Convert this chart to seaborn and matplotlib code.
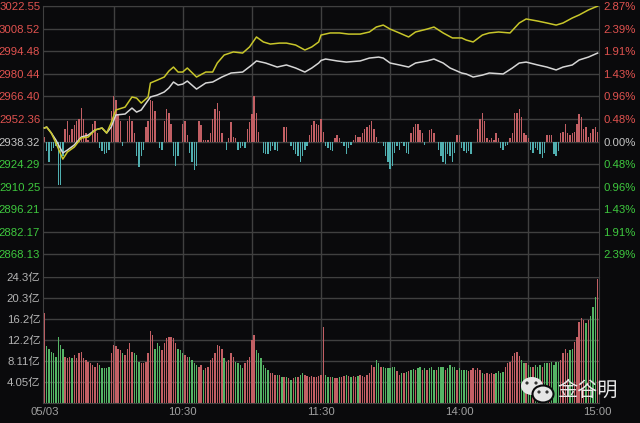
import numpy as np
import pandas as pd
import seaborn as sns
import matplotlib
matplotlib.use("Agg")
import matplotlib.pyplot as plt
from matplotlib.patches import Ellipse, Circle
from matplotlib.transforms import IdentityTransform

# ---- data ---------------------------------------------------------------
prev_close = 2938.32
step = 14.04  # one grid row on the price panel

minutes = list(range(241))

# yellow (unweighted) and white (index) lines: minute -> price
yellow_min = [0, 1, 3, 5, 8, 10, 13, 16, 19, 22, 25, 27, 29, 31, 35, 38, 40, 42, 45, 46,
              49, 52, 54, 56, 58, 60, 62, 66, 70, 73, 75, 78, 82, 86, 89, 92, 95, 98, 102, 105,
              109, 113, 116, 119, 120, 124, 128, 132, 137, 141, 144, 147, 150, 154, 158, 161, 166, 169, 173, 177,
              181, 183, 186, 190, 193, 197, 202, 206, 209, 214, 218, 222, 225, 229, 232, 236, 240]
yellow_px = [2946.7, 2947.3, 2943.6, 2937.4, 2927.4, 2931.8, 2934.9, 2940.5, 2941.1, 2945.5,
             2946.7, 2943.6, 2950.0, 2957.9, 2959.7, 2966.0, 2965.3, 2962.2, 2966.0, 2974.7,
             2976.5, 2978.4, 2982.1, 2984.6, 2981.5, 2981.5, 2984.0, 2978.4, 2981.5, 2981.5,
             2987.1, 2992.1, 2994.0, 2993.3, 2997.1, 3003.3, 3000.2, 2998.9, 2999.5, 2999.5,
             2998.3, 2995.2, 2997.1, 3000.2, 3004.5, 3005.8, 3005.8, 3005.1, 3005.1, 3006.4,
             3009.5, 3010.7, 3008.2, 3005.8, 3003.3, 3006.4, 3008.2, 3009.5, 3005.8, 3002.7,
             3002.7, 3001.4, 3000.2, 3004.5, 3005.8, 3006.4, 3005.8, 3012.0, 3014.5, 3013.2,
             3012.0, 3010.7, 3012.0, 3015.1, 3017.0, 3020.1, 3022.5]

white_min = [0, 1, 3, 5, 8, 10, 13, 16, 19, 22, 25, 27, 29, 31, 35, 38, 40, 42, 46, 49,
             52, 54, 56, 58, 60, 62, 66, 70, 73, 77, 81, 86, 90, 92, 96, 101, 105, 109, 113, 116,
             119, 120, 122, 127, 131, 137, 141, 145, 147, 150, 154, 158, 161, 166, 169, 173, 176, 181, 183, 186,
             190, 193, 199, 203, 206, 209, 214, 218, 222, 225, 229, 232, 236, 240]
white_px = [2946.7, 2947.3, 2943.6, 2939.2, 2931.2, 2933.0, 2936.2, 2941.1, 2942.3, 2945.5,
            2946.7, 2943.6, 2947.3, 2954.8, 2955.4, 2959.1, 2956.6, 2957.9, 2966.0, 2967.2,
            2969.1, 2971.6, 2975.3, 2973.4, 2974.0, 2975.9, 2970.9, 2974.7, 2975.3, 2978.4,
            2980.9, 2981.5, 2985.9, 2988.4, 2987.1, 2984.6, 2985.9, 2984.0, 2981.5, 2984.0,
            2987.1, 2988.7, 2989.6, 2988.4, 2987.7, 2988.4, 2990.2, 2990.8, 2990.2, 2987.1,
            2985.9, 2984.6, 2987.1, 2988.4, 2989.6, 2987.1, 2984.0, 2980.9, 2980.3, 2978.4,
            2979.6, 2980.9, 2980.3, 2984.0, 2987.1, 2987.7, 2985.9, 2984.6, 2982.8, 2984.6,
            2985.9, 2989.0, 2990.8, 2993.3]

# red / cyan strength bars around the previous close (index points)
strength = [3, -6, -13, -6, -4, -3, -27, -27, -9, 8,
            13, 4, 8, 10, 13, 14, 21, 14, 5, 1,
            0, 11, 13, 5, -4, -6, -8, -7, -5, 19,
            28, 26, 17, 13, -3, 0, 13, 16, 13, 5,
            -9, -16, -9, -5, 9, 13, 26, 25, 19, 0,
            -4, -5, 13, 20, 18, 11, -9, -15, -9, 0,
            11, 13, 4, -7, -13, -18, -15, 13, 10, 1,
            1, 1, 5, 14, 20, 24, 19, 5, 0, -5,
            2, 12, 3, 2, -5, -4, -3, -4, 8, 12,
            17, 28, 18, 6, 0, -7, -8, -8, -6, -3,
            -5, -6, 0, 0, 9, 9, 0, -3, -5, -8,
            -9, -13, -9, -5, -3, 4, 10, 13, 11, 10,
            14, 6, -3, -4, -5, -6, 2, 4, 2, -1,
            -3, -8, -4, -2, 1, 4, 3, 3, 5, 8,
            9, 10, 13, 8, 3, -1, 0, -3, -9, -13,
            -17, -15, -7, -3, -5, -1, -3, -7, -8, 5,
            9, 11, 11, 7, 5, -2, 0, 7, 8, 5,
            0, -5, -9, -13, -14, -8, -9, -13, -7, 4,
            4, -4, -6, -7, -6, -8, 0, 0, 8, 14,
            18, 13, 2, 1, 2, 1, 5, 2, -4, -5,
            -3, -2, 2, 5, 18, 18, 20, 15, 5, 4,
            2, -5, -7, -4, -5, -8, -10, -7, 4, 4,
            4, -8, -9, -6, 5, 6, 11, 5, 4, 5,
            6, 11, 17, 15, 8, 9, 3, 5, 8, 9, 6]

# turnover per minute (亿) and up/down flag
volume = [17.3, 10.9, 10.5, 9.9, 9.6, 8.9, 12.8, 11.2, 10.5, 8.9,
          8.6, 8.9, 8.6, 9.3, 8.6, 9.6, 9.9, 8.6, 8.3, 8.0,
          7.7, 7.3, 7.0, 7.7, 7.3, 6.7, 6.7, 6.7, 7.0, 9.6,
          11.2, 10.9, 10.5, 10.2, 9.6, 9.3, 10.5, 11.5, 9.9, 9.6,
          9.3, 8.0, 7.7, 7.7, 8.0, 9.6, 13.8, 13.1, 10.5, 11.5,
          10.9, 10.2, 11.5, 12.5, 12.8, 12.8, 12.5, 11.5, 10.5, 10.2,
          9.6, 9.3, 8.9, 8.9, 8.3, 7.7, 7.3, 7.0, 7.4, 6.4,
          6.7, 7.0, 8.3, 8.6, 9.6, 11.1, 10.9, 10.5, 8.6, 8.0,
          8.3, 9.6, 8.9, 8.0, 7.7, 7.3, 6.7, 7.7, 8.3, 8.9,
          12.2, 13.1, 10.2, 9.6, 8.6, 7.4, 6.8, 6.4, 5.8, 5.7,
          5.4, 5.4, 5.4, 5.1, 5.1, 5.1, 4.8, 4.5, 4.8, 5.1,
          5.1, 5.4, 5.7, 5.4, 5.2, 5.1, 5.2, 5.0, 5.1, 5.2,
          5.4, 14.7, 5.4, 5.1, 5.0, 5.0, 4.8, 4.8, 5.1, 5.1,
          5.2, 5.4, 5.2, 5.1, 5.2, 5.1, 5.2, 5.4, 5.2, 5.1,
          5.4, 5.7, 7.3, 7.0, 8.3, 7.7, 7.0, 7.0, 6.7, 6.7,
          6.7, 7.0, 7.0, 6.1, 5.4, 5.7, 5.7, 5.9, 6.1, 6.4,
          6.6, 6.3, 6.8, 7.0, 6.4, 6.8, 6.4, 6.8, 7.0, 6.4,
          6.4, 7.0, 7.0, 7.0, 6.4, 6.7, 7.3, 7.0, 7.0, 6.4,
          6.7, 6.4, 6.4, 6.4, 6.2, 6.4, 6.8, 6.4, 6.8, 6.4,
          5.8, 5.5, 5.8, 5.5, 5.8, 5.5, 5.8, 6.1, 5.8, 5.9,
          7.0, 7.7, 8.0, 9.0, 9.6, 9.9, 9.0, 8.3, 7.8, 7.7,
          7.4, 7.0, 7.0, 7.4, 7.0, 7.4, 7.0, 7.7, 7.7, 7.7,
          8.0, 7.4, 8.0, 8.0, 8.3, 9.6, 10.5, 9.6, 10.2, 10.5,
          11.8, 12.8, 15.7, 16.4, 16.1, 15.4, 16.1, 16.7, 18.6, 20.5, 24.0]
volume_dir = list("rggggggggr" "rrgrrrrrrr" "rrrrgggggr" "rrrrgrrrrg" "ggrrrrrrgg"
                  "grrrrrrrgg" "grrggggrrg" "rrrrrrrrgr" "rrrggggrrr" "rrggggggrr"
                  "rgrgrgrgrg" "rggrrrrrrr" "rrggrgrrgr" "rgrgrrgrrr" "rrrrggrggg"
                  "gggrrgrgrg" "grggrgrggg" "rgggrggggr" "ggggrrrrrr" "grrrrrgggg"
                  "rrrrrrrggr" "ggrgggrggr" "ggggrrrrgg" "rrrrrgrgggr")

price_labels = ['3022.55', '3008.52', '2994.48', '2980.44', '2966.40', '2952.36',
                '2938.32', '2924.29', '2910.25', '2896.21', '2882.17', '2868.13']
pct_labels = ['2.87%', '2.39%', '1.91%', '1.43%', '0.96%', '0.48%',
              '0.00%', '0.48%', '0.96%', '1.43%', '1.91%', '2.39%']
vol_ticks = [4.05, 8.11, 12.2, 16.2, 20.3, 24.3]
vol_labels = ['4.05亿', '8.11亿', '12.2亿', '16.2亿', '20.3亿', '24.3亿']
time_ticks = [0, 60, 120, 180, 240]
time_labels = ['05/03', '10:30', '11:30', '14:00', '15:00']
half_hours = [30, 60, 90, 120, 150, 180, 210]

# ---- style ---------------------------------------------------------------
bg = '#0a0a0c'
grid_c = '#404040'
up_c, down_c = '#d24e56', '#45c45a'
cyan_c = '#40bfc0'
lab_red, lab_green, lab_grey = '#e0524f', '#3ec83e', '#c4c4c4'

plt.rcParams['font.family'] = ['Liberation Sans', 'Noto Sans CJK SC']
plt.rcParams['axes.unicode_minus'] = False
fs = 8.2

fig = plt.figure(figsize=(6.4, 4.23), dpi=100, facecolor=bg)
W, H = 640, 423
ax_price = fig.add_axes([43 / W, 146 / H, 556 / W, 271 / H])
ax_pct = ax_price.twinx()
ax_vol = fig.add_axes([43 / W, 20 / H, 556 / W, 126 / H], sharex=ax_price)

ax_price.set_zorder(2)
ax_price.patch.set_visible(False)
ax_pct.set_zorder(1)
ax_pct.patch.set_visible(False)
ax_vol.set_facecolor(bg)

# strength bars (relative to previous close)
df_s = pd.DataFrame({'minute': minutes, 'pts': strength})
df_s['side'] = np.where(df_s['pts'] >= 0, 'up', 'down')
sns.barplot(data=df_s, x='minute', y='pts', hue='side', palette={'up': up_c, 'down': cyan_c},
            native_scale=True, dodge=False, width=0.6, errorbar=None, legend=False,
            linewidth=0, ax=ax_pct)

# price lines
sns.lineplot(x=white_min, y=white_px, color='#d6d6d6', linewidth=1.1, ax=ax_price)
sns.lineplot(x=yellow_min, y=yellow_px, color='#c8c62a', linewidth=1.1, ax=ax_price)

# volume bars
df_v = pd.DataFrame({'minute': minutes, 'vol': volume, 'dir': volume_dir})
sns.barplot(data=df_v, x='minute', y='vol', hue='dir', palette={'r': up_c, 'g': down_c},
            native_scale=True, dodge=False, width=0.6, errorbar=None, legend=False,
            linewidth=0, ax=ax_vol)

# ---- axes ------------------------------------------------------------------
ks = list(range(6, -6, -1))
ax_price.set_ylim(prev_close - 6 * step, prev_close + 6 * step)
ax_price.set_yticks([prev_close + k * step for k in ks])
ax_price.set_yticklabels(price_labels)
ax_pct.set_ylim(-6 * step, 6 * step)
ax_pct.set_yticks([k * step for k in ks])
ax_pct.set_yticklabels(pct_labels)

for lbl_l, lbl_r, k in zip(ax_price.get_yticklabels(), ax_pct.get_yticklabels(), ks):
    c = lab_red if k > 0 else (lab_grey if k == 0 else lab_green)
    lbl_l.set_color(c)
    lbl_r.set_color(c)

ax_pct.yaxis.grid(True, color=grid_c, linewidth=1)
ax_pct.set_axisbelow(True)
for m in half_hours:
    ax_pct.axvline(m, color=grid_c, linewidth=1, zorder=0)
    ax_vol.axvline(m, color=grid_c, linewidth=1, zorder=0)

ax_vol.set_ylim(0, 24.3)
ax_vol.set_yticks(vol_ticks)
ax_vol.set_yticklabels(vol_labels, color='#b4b4b4')
ax_vol.yaxis.grid(True, color=grid_c, linewidth=1)
ax_vol.set_axisbelow(True)

ax_price.set_xlim(-0.6, 240.6)
ax_vol.set_xticks(time_ticks)
ax_vol.set_xticklabels(time_labels, color='#a0a0a0')

for ax in (ax_price, ax_pct, ax_vol):
    ax.set_xlabel('')
    ax.set_ylabel('')
    ax.tick_params(length=0, labelsize=fs)
ax_price.tick_params(axis='y', pad=2)
ax_pct.tick_params(axis='y', pad=3)
ax_price.tick_params(axis='x', labelbottom=False)
ax_pct.tick_params(axis='x', labelbottom=False)
ax_vol.tick_params(axis='y', pad=2)
ax_vol.tick_params(axis='x', pad=3)

for s in ax_price.spines.values():
    s.set_visible(False)
for name, s in ax_pct.spines.items():
    s.set_color(grid_c)
    s.set_visible(name != 'bottom')
for s in ax_vol.spines.values():
    s.set_color(grid_c)

# ---- watermark -------------------------------------------------------------
ident = IdentityTransform()
fig.add_artist(Ellipse((532, H - 386), 22, 18, facecolor='#e6e6e6', edgecolor='none',
                       transform=ident, zorder=10))
fig.add_artist(Ellipse((543, H - 394), 21, 17, facecolor='#e6e6e6', edgecolor=bg,
                       linewidth=1.5, transform=ident, zorder=11))
for ex, ey in [(527, H - 383), (536, H - 383), (539, H - 392), (547, H - 392)]:
    fig.add_artist(Circle((ex, ey), 1.6, facecolor='#333333', edgecolor='none',
                          transform=ident, zorder=12))
fig.text(588 / W, 1 - 390 / H, '金谷明', family=['Noto Sans CJK SC'], fontsize=14.5,
         color='#e8e8e8', ha='center', va='center', zorder=12)

fig.savefig('out.png', dpi=100, facecolor=bg)
